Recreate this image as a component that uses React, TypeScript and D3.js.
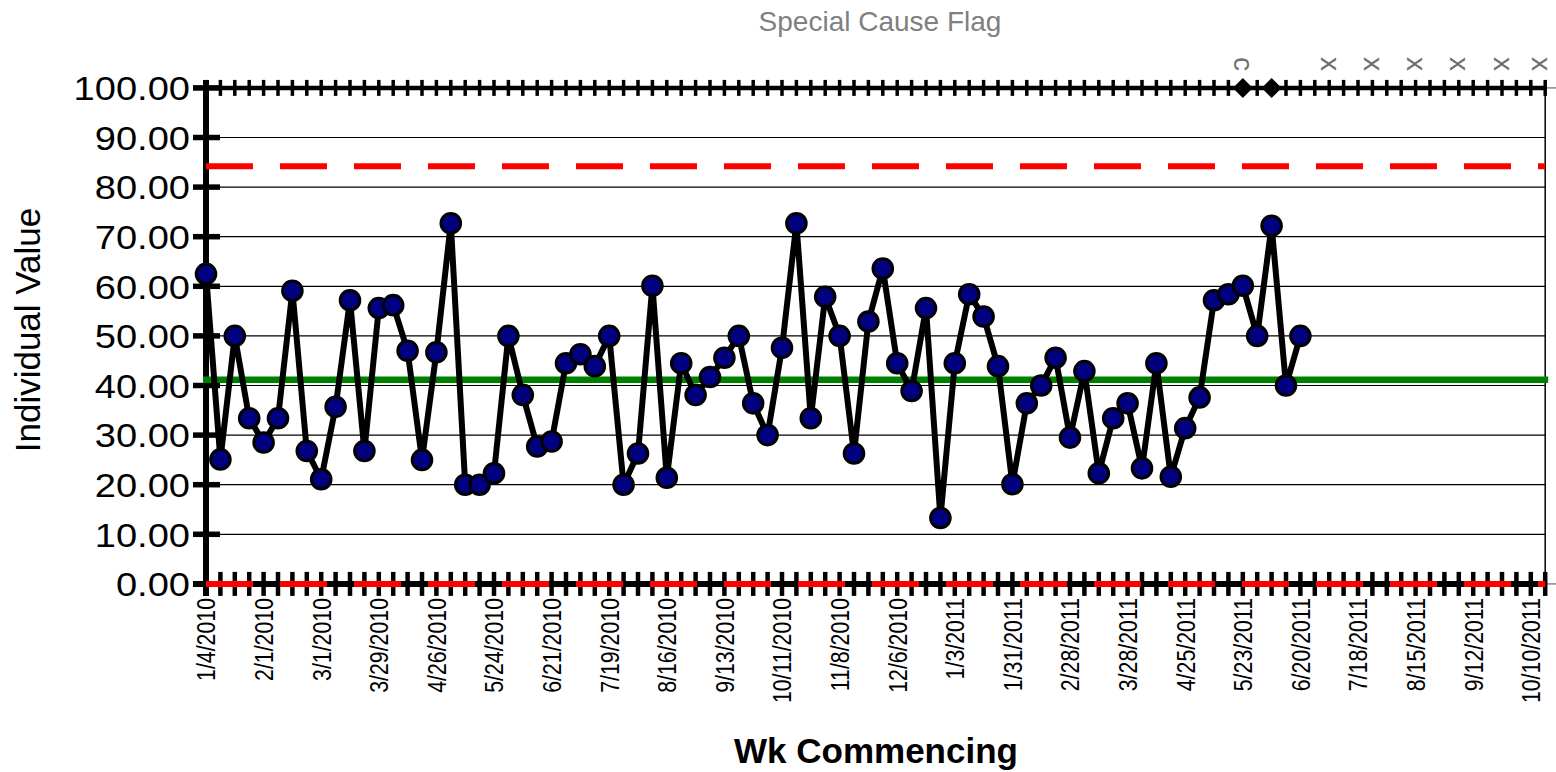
import React from "react";
import * as d3 from "d3";

// ---- data ----
const weekCount = 94; // categories 1/4/2010 ... 10/24/2011 (weekly)
const xTickLabels = [
  "1/4/2010", "2/1/2010", "3/1/2010", "3/29/2010", "4/26/2010", "5/24/2010",
  "6/21/2010", "7/19/2010", "8/16/2010", "9/13/2010", "10/11/2010", "11/8/2010",
  "12/6/2010", "1/3/2011", "1/31/2011", "2/28/2011", "3/28/2011", "4/25/2011",
  "5/23/2011", "6/20/2011", "7/18/2011", "8/15/2011", "9/12/2011", "10/10/2011",
];
const xTickStep = 4;
const individualValues = [
  62.5, 25.1, 50.0, 33.4, 28.5, 33.4, 59.1, 26.8, 21.1, 35.7, 57.2, 26.8, 55.6,
  56.2, 47.0, 25.0, 46.7, 72.7, 20.0, 20.0, 22.3, 50.0, 38.1, 27.7, 28.7, 44.5,
  46.3, 43.9, 50.0, 20.0, 26.3, 60.1, 21.4, 44.5, 38.1, 41.7, 45.6, 50.0, 36.4,
  30.0, 47.6, 72.7, 33.4, 57.9, 50.0, 26.3, 52.9, 63.6, 44.5, 38.9, 55.6, 13.3,
  44.5, 58.4, 53.9, 43.9, 20.1, 36.4, 40.0, 45.6, 29.5, 42.9, 22.3, 33.4, 36.4,
  23.3, 44.5, 21.6, 31.4, 37.6, 57.2, 58.4, 60.1, 50.0, 72.2, 40.0, 50.0,
];
const meanValue = 41.17;
const uclValue = 84.2;
const lclValue = 0;
const yTicks = [0, 10, 20, 30, 40, 50, 60, 70, 80, 90, 100];
const flagWeeks = [72, 74];
const flagValue = 100;
const flagLabelWeeks = [72, 78, 81, 84, 87, 90, 93];
const flagLabels = ["c", "x", "x", "x", "x", "x", "x"];

// ---- layout ----
const W = 1556;
const H = 772;
const x0 = 206;
const x1 = 1545.2;
const yTop = 87.9;
const yBot = 583.9;

export default function App() {
  const x = d3.scaleLinear().domain([0, weekCount - 1]).range([x0, x1]);
  const y = d3.scaleLinear().domain([0, 100]).range([yBot, yTop]);
  const line = d3
    .line<number>()
    .x((_, i) => x(i))
    .y((d) => y(d));
  const weeks = d3.range(weekCount);
  const font = "'Liberation Sans', Arial, sans-serif";
  const gridVals = yTicks.filter((v) => v > 0 && v < 100);

  return (
    <svg
      width={W}
      height={H}
      style={{ position: "absolute", left: 0, top: 0, background: "#fff" }}
      fontFamily={font}
    >
      <rect x={0} y={0} width={W} height={H} fill="#fff" />
      {/* title */}
      <text x={880} y={31} textAnchor="middle" fontSize={28} fill="#808080">
        Special Cause Flag
      </text>

      {/* gridlines */}
      {gridVals.map((v) => (
        <line key={v} x1={x0} x2={x1} y1={y(v)} y2={y(v)} stroke="#000" strokeWidth={1.2} />
      ))}
      {/* right border */}
      <line x1={x1} x2={x1} y1={yTop} y2={yBot} stroke="#000" strokeWidth={1.5} />
      <line x1={x1} x2={W} y1={yTop} y2={yTop} stroke="#888" strokeWidth={1.5} />
      <line x1={x1} x2={W} y1={yBot} y2={yBot} stroke="#888" strokeWidth={1.5} />

      {/* top axis */}
      <line x1={193} x2={x1} y1={yTop} y2={yTop} stroke="#000" strokeWidth={4.5} />
      {weeks.map((i) => (
        <line key={"tt" + i} x1={x(i)} x2={x(i)} y1={yTop - 8} y2={yTop + 8} stroke="#000" strokeWidth={3.5} />
      ))}

      {/* bottom axis */}
      <line x1={193} x2={x1} y1={yBot} y2={yBot} stroke="#000" strokeWidth={6} />
      {weeks.map((i) => (
        <line key={"bt" + i} x1={x(i)} x2={x(i)} y1={yBot - 12} y2={yBot + 12} stroke="#000" strokeWidth={4.5} />
      ))}

      {/* y axis */}
      <line x1={x0} x2={x0} y1={yTop - 8} y2={yBot + 12} stroke="#000" strokeWidth={6} />
      {yTicks.map((v) => (
        <line key={"yt" + v} x1={193} x2={220} y1={y(v)} y2={y(v)} stroke="#000" strokeWidth={5.5} />
      ))}
      {yTicks.map((v) => (
        <text
          key={"yl" + v}
          transform={`translate(190,${y(v)}) scale(1.12,1)`}
          dy="0.36em"
          textAnchor="end"
          fontSize={34}
          fill="#000"
        >
          {v.toFixed(2)}
        </text>
      ))}

      {/* control lines */}
      <line x1={x0} x2={x1} y1={y(uclValue)} y2={y(uclValue)} stroke="#ff0000" strokeWidth={6} strokeDasharray="47 27" />
      <line x1={x0} x2={x1} y1={y(lclValue)} y2={y(lclValue)} stroke="#ff0000" strokeWidth={6} strokeDasharray="47 27" />
      <line x1={x0 - 3} x2={x1 + 3} y1={y(meanValue)} y2={y(meanValue)} stroke="#008000" strokeWidth={6.5} />

      {/* x tick labels */}
      {xTickLabels.map((lab, k) => {
        const xi = x(k * xTickStep);
        return (
          <text
            key={lab}
            transform={`translate(${xi},598) rotate(-90) scale(0.82,1)`}
            textAnchor="end"
            dy="0.36em"
            fontSize={26}
            fill="#000"
          >
            {lab}
          </text>
        );
      })}

      {/* series */}
      <path d={line(individualValues) || ""} fill="none" stroke="#000" strokeWidth={6} strokeLinejoin="miter" />
      {individualValues.map((v, i) => (
        <circle key={"p" + i} cx={x(i)} cy={y(v)} r={9.8} fill="#000080" stroke="#000" strokeWidth={3} />
      ))}

      {/* special cause flags */}
      {flagWeeks.map((w) => (
        <path
          key={"f" + w}
          d={d3.symbol(d3.symbolSquare, 200)() || ""}
          transform={`translate(${x(w)},${y(flagValue)}) rotate(45)`}
          fill="#000"
        />
      ))}
      {flagLabelWeeks.map((w, k) => (
        <text
          key={"fl" + w}
          transform={`translate(${Math.min(x(w), 1540)},64) rotate(90)`}
          textAnchor="middle"
          dy="0.3em"
          fontSize={28}
          fill="#707070"
        >
          {flagLabels[k]}
        </text>
      ))}

      {/* axis titles */}
      <text
        transform="translate(40,330) rotate(-90)"
        textAnchor="middle"
        fontSize={35}
        fill="#000"
      >
        Individual Value
      </text>
      <text x={876} y={763} textAnchor="middle" fontSize={35} fontWeight="bold" fill="#000">
        Wk Commencing
      </text>
    </svg>
  );
}
